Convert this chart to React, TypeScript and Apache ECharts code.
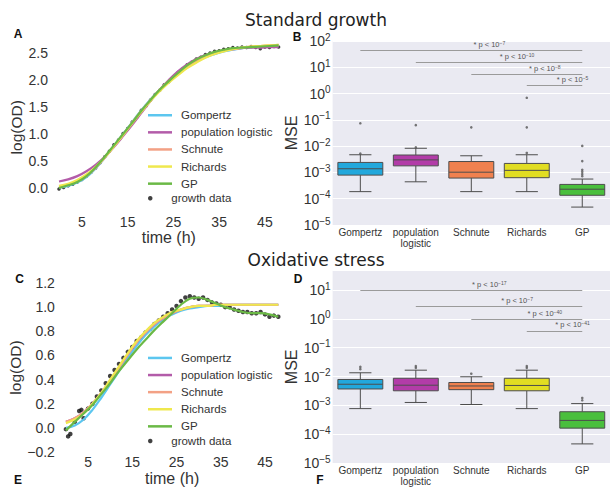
import React, { useEffect, useRef } from "react";
import * as echarts from "echarts";

// ---------- Panel A / C : fitted curves ----------
const fitTimes = [0, 2, 4, 6, 8, 10, 12, 14, 16, 18, 20, 22, 24, 26, 28, 30, 32, 34, 36, 38, 40, 42, 44, 46, 48];

const gompertzA = [0.01, 0.04, 0.1, 0.2, 0.36, 0.56, 0.78, 1.0, 1.22, 1.44, 1.64, 1.82, 1.98, 2.12, 2.24, 2.34, 2.42, 2.48, 2.53, 2.56, 2.59, 2.61, 2.62, 2.63, 2.64];
const logisticA = [0.12, 0.16, 0.22, 0.31, 0.43, 0.58, 0.76, 0.96, 1.17, 1.39, 1.61, 1.82, 2.0, 2.16, 2.29, 2.39, 2.46, 2.51, 2.55, 2.57, 2.59, 2.6, 2.6, 2.61, 2.61];
const schnuteA = [0.02, 0.06, 0.12, 0.22, 0.37, 0.56, 0.77, 0.99, 1.21, 1.43, 1.63, 1.82, 1.98, 2.12, 2.25, 2.35, 2.43, 2.49, 2.54, 2.57, 2.6, 2.62, 2.63, 2.64, 2.65];
const richardsA = [0.04, 0.08, 0.15, 0.25, 0.39, 0.57, 0.77, 0.98, 1.2, 1.41, 1.61, 1.79, 1.95, 2.09, 2.22, 2.32, 2.41, 2.48, 2.53, 2.57, 2.6, 2.62, 2.63, 2.64, 2.65];
const gpA = [0.0, 0.05, 0.11, 0.22, 0.38, 0.58, 0.79, 1.0, 1.21, 1.43, 1.63, 1.82, 1.98, 2.13, 2.27, 2.38, 2.46, 2.52, 2.56, 2.59, 2.6, 2.61, 2.62, 2.63, 2.64];

const dataTimesA = [0, 1, 2, 3, 4, 5, 6, 7, 8, 9, 10, 11, 12, 13, 14, 15, 16, 17, 18, 19, 20, 21, 22, 23, 24, 25, 26, 27, 28, 29, 30, 31, 32, 33, 34, 35, 36, 37, 38, 39, 40, 41, 42, 43, 44, 45, 46, 47, 48];
const growthA = [-0.02, 0.01, 0.04, 0.07, 0.11, 0.16, 0.22, 0.29, 0.37, 0.47, 0.58, 0.68, 0.8, 0.89, 1.01, 1.1, 1.22, 1.31, 1.44, 1.52, 1.63, 1.73, 1.81, 1.91, 1.97, 2.06, 2.14, 2.2, 2.28, 2.33, 2.39, 2.42, 2.47, 2.5, 2.53, 2.54, 2.57, 2.58, 2.6, 2.59, 2.61, 2.6, 2.62, 2.6, 2.58, 2.61, 2.6, 2.62, 2.61];

const gompertzC = [0.0, 0.02, 0.07, 0.15, 0.25, 0.36, 0.47, 0.58, 0.68, 0.77, 0.84, 0.9, 0.94, 0.97, 0.99, 1.0, 1.01, 1.01, 1.02, 1.02, 1.02, 1.02, 1.02, 1.02, 1.02];
const logisticC = [0.05, 0.08, 0.13, 0.2, 0.29, 0.39, 0.5, 0.61, 0.71, 0.79, 0.86, 0.91, 0.95, 0.98, 1.0, 1.01, 1.01, 1.02, 1.02, 1.02, 1.02, 1.02, 1.02, 1.02, 1.02];
const schnuteC = [0.05, 0.08, 0.13, 0.2, 0.29, 0.39, 0.5, 0.61, 0.71, 0.79, 0.86, 0.91, 0.95, 0.98, 1.0, 1.01, 1.01, 1.02, 1.02, 1.02, 1.02, 1.02, 1.02, 1.02, 1.02];
const richardsC = [0.04, 0.07, 0.12, 0.2, 0.29, 0.4, 0.51, 0.62, 0.72, 0.8, 0.87, 0.92, 0.96, 0.98, 1.0, 1.01, 1.01, 1.02, 1.02, 1.02, 1.02, 1.02, 1.02, 1.02, 1.02];
const gpC = [-0.02, 0.05, 0.12, 0.19, 0.28, 0.37, 0.47, 0.56, 0.65, 0.73, 0.81, 0.88, 0.95, 1.02, 1.07, 1.08, 1.06, 1.03, 1.0, 0.98, 0.96, 0.95, 0.95, 0.94, 0.92];

const dataTimesC = [0, 0.5, 1, 2, 3, 3.5, 4, 5, 6, 7, 8, 9, 10, 11, 12, 13, 14, 15, 16, 17, 18, 19, 20, 21, 22, 23, 24, 25, 26, 27, 28, 29, 30, 31, 32, 33, 34, 35, 36, 37, 38, 39, 40, 41, 42, 43, 44, 45, 46, 47, 48];
const growthC = [-0.01, -0.07, -0.05, 0.05, 0.14, 0.15, 0.08, 0.16, 0.2, 0.26, 0.31, 0.37, 0.43, 0.48, 0.53, 0.58, 0.63, 0.67, 0.72, 0.75, 0.79, 0.82, 0.86, 0.89, 0.92, 0.95, 0.98, 1.01, 1.05, 1.08, 1.09, 1.08, 1.07, 1.08, 1.06, 1.04, 1.03, 1.02, 1.0, 1.0, 0.98, 0.97, 0.96, 0.96, 0.95, 0.95, 0.96, 0.94, 0.92, 0.93, 0.92];

const modelNames = ["Gompertz", "population logistic", "Schnute", "Richards", "GP"];
const lineColors = ["#5cc6ef", "#b35ca9", "#f3a185", "#efe84e", "#6bb946"];

// ---------- Panel B / D : MSE boxplots ----------
const categories = ["Gompertz", "population\nlogistic", "Schnute", "Richards", "GP"];
const boxColors = ["#22a8dc", "#b23ca8", "#f0814f", "#e1dd22", "#4abf3d"];

// [min, q1, median, q3, max]
const boxStatsB = [
  [1.86e-4, 7.9e-4, 1.38e-3, 2.4e-3, 4.7e-3],
  [4.4e-4, 1.78e-3, 3.0e-3, 4.6e-3, 8.3e-3],
  [1.86e-4, 6.1e-4, 1.02e-3, 2.6e-3, 4.3e-3],
  [1.86e-4, 6.3e-4, 1.2e-3, 2.2e-3, 4.7e-3],
  [4.8e-5, 1.35e-4, 2.3e-4, 3.5e-4, 5.6e-4],
];
const outliersB = [
  [0, 0.074], [0, 5.2e-3], [1, 0.063], [1, 9.0e-3], [2, 0.052],
  [3, 0.052], [3, 0.69], [3, 5.5e-3],
  [4, 0.0102], [4, 2.7e-3], [4, 1.26e-3], [4, 1.05e-3], [4, 8.7e-4], [4, 7.2e-4],
];
const sigLevelsB = [43, 15.5, 5.4, 2.07];
const sigExpB = ["−7", "−10", "−8", "−5"];

const boxStatsD = [
  [7.7e-4, 3.7e-3, 5.4e-3, 7.9e-3, 0.0135],
  [1.26e-3, 3.2e-3, 5.0e-3, 8.7e-3, 0.0166],
  [1.07e-3, 3.5e-3, 4.7e-3, 6.2e-3, 9.8e-3],
  [7.7e-4, 3.2e-3, 4.9e-3, 8.7e-3, 0.0166],
  [4.6e-5, 1.62e-4, 3.0e-4, 6.0e-4, 1.15e-3],
];
const outliersD = [
  [0, 0.018], [0, 0.0216], [1, 0.02], [1, 0.023], [2, 0.0125],
  [3, 0.02], [3, 0.023], [4, 1.5e-3], [4, 1.8e-3],
];
const sigLevelsD = [9.5, 2.78, 0.955, 0.385];
const sigExpD = ["−17", "−7", "−40", "−41"];

const SANS = '"Liberation Sans", Arial, sans-serif';
const TXT = "#333";

const zip = (xs: number[], ys: number[]) => xs.map((x, i) => [x, ys[i]]);

function lineSeries(name: string, times: number[], vals: number[], color: string, axis: number) {
  return {
    type: "line",
    name,
    xAxisIndex: axis,
    yAxisIndex: axis,
    data: zip(times, vals),
    smooth: 0.4,
    symbol: "none",
    showSymbol: false,
    lineStyle: { color, width: 2.2 },
    itemStyle: { color },
    silent: true,
  };
}

function boxSeries(stats: number[][], axis: number) {
  return {
    type: "custom",
    xAxisIndex: axis,
    yAxisIndex: axis,
    silent: true,
    encode: { x: 0, y: [1, 2, 3, 4, 5] },
    data: stats.map((s, i) => [i, ...s]),
    renderItem: (params: any, api: any) => {
      const i = api.value(0);
      const lo = api.coord([i, api.value(1)]);
      const q1 = api.coord([i, api.value(2)]);
      const md = api.coord([i, api.value(3)]);
      const q3 = api.coord([i, api.value(4)]);
      const hi = api.coord([i, api.value(5)]);
      const band = Math.abs(api.coord([1, api.value(3)])[0] - api.coord([0, api.value(3)])[0]);
      const bw = band * 0.81;
      const cw = band * 0.4;
      const cx = md[0];
      const st = { stroke: "#4d4d4d", lineWidth: 1 };
      return {
        type: "group",
        children: [
          { type: "line", shape: { x1: cx, y1: lo[1], x2: cx, y2: q1[1] }, style: st },
          { type: "line", shape: { x1: cx, y1: q3[1], x2: cx, y2: hi[1] }, style: st },
          { type: "line", shape: { x1: cx - cw / 2, y1: lo[1], x2: cx + cw / 2, y2: lo[1] }, style: st },
          { type: "line", shape: { x1: cx - cw / 2, y1: hi[1], x2: cx + cw / 2, y2: hi[1] }, style: st },
          {
            type: "rect",
            shape: { x: cx - bw / 2, y: q3[1], width: bw, height: q1[1] - q3[1] },
            style: { fill: boxColors[params.dataIndex], stroke: "#4d4d4d", lineWidth: 1 },
          },
          { type: "line", shape: { x1: cx - bw / 2, y1: md[1], x2: cx + bw / 2, y2: md[1] }, style: st },
        ],
      };
    },
  };
}

function outlierSeries(pts: number[][], levels: number[], exps: string[], axis: number) {
  return {
    type: "scatter",
    xAxisIndex: axis,
    yAxisIndex: axis,
    silent: true,
    data: pts,
    symbolSize: 2.6,
    itemStyle: { color: "#555" },
    markLine: {
      silent: true,
      symbol: ["none", "none"],
      lineStyle: { color: "#9a9a9a", width: 1, type: "solid" },
      label: {
        show: true,
        position: "insideMiddleTop",
        distance: 2,
        formatter: (p: any) => p.name,
        color: "#555",
        fontSize: 7.5,
        fontFamily: SANS,
        padding: [0, 0, 0, 36],
        rich: { s: { fontSize: 5, verticalAlign: "top", lineHeight: 6, color: "#555", fontFamily: SANS } },
      },
      data: levels.map((v, k) => [
        { name: `* p < 10{s|${exps[k]}}`, coord: [categories[k], v] },
        { coord: [categories[4], v] },
      ]),
    },
  };
}

function logLabel(v: number) {
  const l = Math.log10(v);
  const e = Math.round(l);
  if (Math.abs(l - e) > 1e-6) return "";
  const s = e < 0 ? "−" + Math.abs(e) : String(e);
  return `{b|10}{s|${s}}`;
}

function logAxis(grid: number, max: number) {
  return {
    type: "log",
    logBase: 10,
    gridIndex: grid,
    min: 1e-5,
    max,
    name: "MSE",
    nameLocation: "middle",
    nameGap: 27,
    nameTextStyle: { fontSize: 16, color: TXT, fontFamily: SANS },
    axisLine: { show: false },
    axisTick: { show: false },
    splitLine: { show: true, lineStyle: { color: "#ffffff", width: 1 } },
    axisLabel: {
      margin: 2,
      formatter: logLabel,
      rich: {
        b: { fontSize: 14, lineHeight: 18, verticalAlign: "middle", color: TXT, fontFamily: SANS },
        s: { fontSize: 10, lineHeight: 10, verticalAlign: "top", color: TXT, fontFamily: SANS },
      },
    },
  };
}

function catAxis(grid: number) {
  return {
    type: "category",
    gridIndex: grid,
    data: categories,
    axisLine: { show: false },
    axisTick: { show: false },
    splitLine: { show: false },
    axisLabel: { fontSize: 10, lineHeight: 11, color: TXT, fontFamily: SANS, margin: 2, interval: 0 },
  };
}

function timeAxis(grid: number, gap: number, margin: number) {
  return {
    type: "value",
    gridIndex: grid,
    min: 0,
    max: 48,
    interval: 5,
    name: "time (h)",
    nameLocation: "middle",
    nameGap: gap,
    nameTextStyle: { fontSize: 16, color: TXT, fontFamily: SANS },
    axisLine: { show: false },
    axisTick: { show: false },
    splitLine: { show: false },
    axisLabel: {
      fontSize: 14,
      color: TXT,
      fontFamily: SANS,
      margin,
      formatter: (v: number) => (Math.round(v) % 10 === 5 ? String(Math.round(v)) : ""),
    },
  };
}

function legendPair(firstRowCenter: number) {
  const txt = { fontSize: 11.5, color: TXT, fontFamily: SANS, padding: [0, 0, 0, 4] };
  return [
    {
      orient: "vertical",
      left: 148,
      top: firstRowCenter - 5.75,
      padding: 0,
      itemWidth: 24,
      itemHeight: 2.5,
      itemGap: 5.1,
      selectedMode: false,
      data: modelNames.map((n) => ({ name: n, icon: "rect" })),
      textStyle: txt,
    },
    {
      orient: "vertical",
      left: 148,
      top: firstRowCenter + 5 * 16.6 - 5.75,
      padding: 0,
      itemWidth: 24,
      itemHeight: 4.5,
      selectedMode: false,
      data: [{ name: "growth data", icon: "circle" }],
      textStyle: txt,
    },
  ];
}

const letter = (t: string, x: number, y: number) => ({
  type: "text",
  x,
  y,
  silent: true,
  style: {
    text: t,
    align: "center",
    verticalAlign: "middle",
    fontSize: 12,
    fontWeight: "bold",
    fontFamily: SANS,
    fill: "#111",
  },
});

const title = (t: string, y: number) => ({
  type: "text",
  x: 316,
  y,
  silent: true,
  style: {
    text: t,
    align: "center",
    verticalAlign: "middle",
    fontSize: 17,
    fontFamily: '"DejaVu Sans", sans-serif',
    fill: "#222",
  },
});

export default function App() {
  const ref = useRef<HTMLDivElement>(null);
  useEffect(() => {
    if (!ref.current) return;
    const chart = echarts.init(ref.current, undefined, { renderer: "svg" });
    const option: any = {
      animation: false,
      backgroundColor: "#ffffff",
      grid: [
        { left: 59, top: 39.5, width: 219.6, height: 175.5 },
        { left: 65.9, top: 283, width: 212.4, height: 172 },
        { left: 332.6, top: 41, width: 283.8, height: 184, show: true, backgroundColor: "#eaeaf2", borderWidth: 0 },
        { left: 332.6, top: 270.7, width: 283.8, height: 192.3, show: true, backgroundColor: "#eaeaf2", borderWidth: 0 },
      ],
      xAxis: [timeAxis(0, 12, 0), timeAxis(1, 16, 3), catAxis(2), catAxis(3)],
      yAxis: [
        {
          type: "value",
          gridIndex: 0,
          min: -0.5,
          max: 2.75,
          interval: 0.5,
          name: "log(OD)",
          nameLocation: "middle",
          nameGap: 31,
          nameTextStyle: { fontSize: 15.5, color: TXT, fontFamily: SANS },
          axisLine: { show: false },
          axisTick: { show: false },
          splitLine: { show: false },
          axisLabel: {
            fontSize: 14,
            color: TXT,
            fontFamily: SANS,
            margin: 11,
            formatter: (v: number) => {
              const k = Math.round(v * 2);
              if (Math.abs(v * 2 - k) > 1e-6 || v < 0 || v > 2.5) return "";
              return v.toFixed(1);
            },
          },
        },
        {
          type: "value",
          gridIndex: 1,
          min: -0.2,
          max: 1.2,
          interval: 0.2,
          name: "log(OD)",
          nameLocation: "middle",
          nameGap: 38,
          nameTextStyle: { fontSize: 15.5, color: TXT, fontFamily: SANS },
          axisLine: { show: false },
          axisTick: { show: false },
          splitLine: { show: false },
          axisLabel: {
            fontSize: 14,
            color: TXT,
            fontFamily: SANS,
            margin: 11,
            formatter: (v: number) => (v < -1e-9 ? "−" + Math.abs(v).toFixed(1) : Math.abs(v).toFixed(1)),
          },
        },
        logAxis(2, 100),
        logAxis(3, 46.9),
      ],
      legend: [...legendPair(115), ...legendPair(357.7)],
      graphic: [
        title("Standard growth", 20),
        title("Oxidative stress", 260),
        letter("A", 18, 33.5),
        letter("B", 297, 37),
        letter("C", 19.5, 278.5),
        letter("D", 298, 278.5),
        letter("E", 18, 480),
        letter("F", 320, 480),
      ],
      series: [
        {
          type: "scatter",
          name: "growth data",
          xAxisIndex: 0,
          yAxisIndex: 0,
          data: zip(dataTimesA, growthA),
          symbolSize: 3.5,
          itemStyle: { color: "#111" },
          silent: true,
        },
        lineSeries(modelNames[0], fitTimes, gompertzA, lineColors[0], 0),
        lineSeries(modelNames[1], fitTimes, logisticA, lineColors[1], 0),
        lineSeries(modelNames[2], fitTimes, schnuteA, lineColors[2], 0),
        lineSeries(modelNames[3], fitTimes, richardsA, lineColors[3], 0),
        lineSeries(modelNames[4], fitTimes, gpA, lineColors[4], 0),
        lineSeries(modelNames[0], fitTimes, gompertzC, lineColors[0], 1),
        lineSeries(modelNames[1], fitTimes, logisticC, lineColors[1], 1),
        lineSeries(modelNames[2], fitTimes, schnuteC, lineColors[2], 1),
        lineSeries(modelNames[3], fitTimes, richardsC, lineColors[3], 1),
        lineSeries(modelNames[4], fitTimes, gpC, lineColors[4], 1),
        {
          type: "scatter",
          name: "growth data",
          xAxisIndex: 1,
          yAxisIndex: 1,
          data: zip(dataTimesC, growthC),
          symbolSize: 4.5,
          itemStyle: { color: "#111" },
          silent: true,
        },
        boxSeries(boxStatsB, 2),
        outlierSeries(outliersB, sigLevelsB, sigExpB, 2),
        boxSeries(boxStatsD, 3),
        outlierSeries(outliersD, sigLevelsD, sigExpD, 3),
      ],
    };
    chart.setOption(option);
    return () => chart.dispose();
  }, []);
  return (
    <div
      ref={ref}
      style={{ position: "fixed", left: 0, top: 0, width: 610, height: 487, background: "#fff" }}
    />
  );
}
